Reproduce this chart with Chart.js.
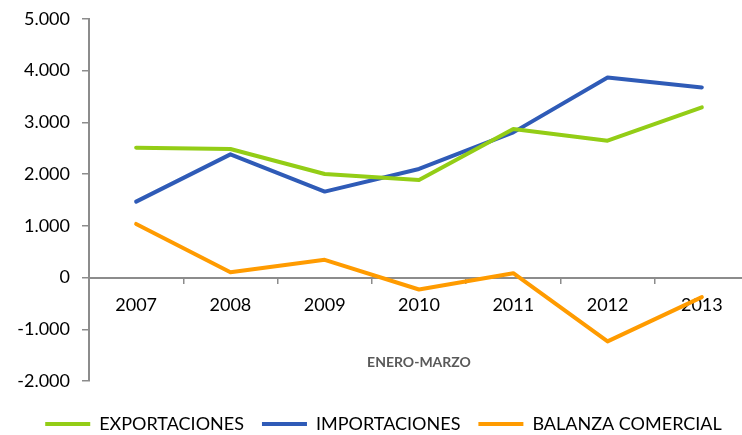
<!DOCTYPE html>
<html>
<head>
<meta charset="utf-8">
<script src="https://cdn.jsdelivr.net/npm/chart.js@4"></script>
<style>
  html, body { margin: 0; padding: 0; background: #fff; overflow: hidden; }
  /* nudged up so the plot top lands where the reference has it */
  #wrap { width: 777px; height: 447px; margin-top: -4px; }
</style>
</head>
<body>
<div id="wrap"><canvas id="chart" width="777" height="447"></canvas></div>
<script>
const YEARS = ["2007", "2008", "2009", "2010", "2011", "2012", "2013"];
const EXPORTACIONES = [2510, 2484, 2000, 1886, 2870, 2645, 3288];
const IMPORTACIONES = [1467, 2380, 1660, 2098, 2805, 3867, 3674];
const BALANZA = [1036, 102, 342, -232, 83, -1235, -380];
const Y_RANGE = { min: -2000, max: 5000, step: 1000 };

const COLORS = { exp: "#93CD16", imp: "#2F5BB7", bal: "#FF9B00", axis: "#8c8c8c" };
const FONT = "Lato, 'Open Sans', sans-serif";

// 1000 -> "1.000"
const thousands = (v) => String(v).replace(/\B(?=(\d{3})+(?!\d))/g, ".");

const lineSet = (label, data, color) => ({
  label,
  data,
  borderColor: color,
  backgroundColor: color,
  borderWidth: 4,
  borderJoinStyle: "round",
  borderCapStyle: "round",
  pointRadius: 0,
  tension: 0,
});

new Chart(document.getElementById("chart").getContext("2d"), {
  type: "line",
  data: {
    labels: YEARS,
    datasets: [
      lineSet("EXPORTACIONES", EXPORTACIONES, COLORS.exp),
      lineSet("IMPORTACIONES", IMPORTACIONES, COLORS.imp),
      lineSet("BALANZA COMERCIAL", BALANZA, COLORS.bal),
    ],
  },
  options: {
    responsive: false,
    animation: false,
    layout: { padding: { left: 18, right: 28, top: 14, bottom: 0 } },
    plugins: {
      tooltip: { enabled: false },
      legend: {
        position: "bottom",
        title: { display: true, text: " ", font: { size: 10 }, padding: { top: 4, bottom: 0 } },
        labels: {
          color: "#000",
          font: { family: FONT, size: 18 },
          boxWidth: 45,
          boxHeight: 4,
          padding: 18,
          generateLabels: (chart) =>
            Chart.defaults.plugins.legend.labels.generateLabels(chart).map((item) => ({ ...item, lineWidth: 0 })),
        },
      },
    },
    scales: {
      x: {
        type: "category",
        position: { y: 0 },
        offset: true,
        border: { color: COLORS.axis, width: 2 },
        grid: { offset: true, drawOnChartArea: false, tickLength: 5, color: COLORS.axis, lineWidth: 1.5 },
        ticks: { color: "#000", font: { family: FONT, size: 18 }, padding: 12, maxRotation: 0 },
        title: {
          display: true,
          text: "ENERO-MARZO",
          color: "#595959",
          font: { family: FONT, size: 14, weight: "bold" },
          padding: { top: 26, bottom: 0 },
        },
      },
      y: {
        min: Y_RANGE.min,
        max: Y_RANGE.max,
        afterFit: (scale) => {
          scale.width = 71;
          // labels run past the narrow axis box into the left padding; don't clip them
          scale._computeLabelArea = () => undefined;
        },
        border: { color: COLORS.axis, width: 2 },
        grid: { drawOnChartArea: false, tickLength: 7, color: COLORS.axis, lineWidth: 1.5 },
        ticks: {
          stepSize: Y_RANGE.step,
          color: "#000",
          font: { family: FONT, size: 18 },
          padding: 12,
          callback: (v) => thousands(v),
        },
      },
    },
  },
});
</script>
</body>
</html>
